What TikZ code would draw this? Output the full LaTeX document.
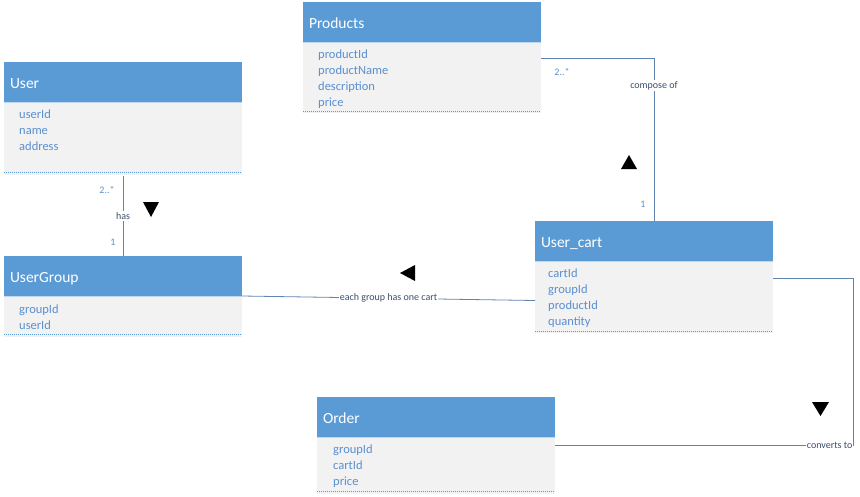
\documentclass[tikz,border=0pt]{standalone}
\usepackage{fontspec}
\setmainfont{Carlito}
\definecolor{hdr}{HTML}{5B9BD5}
\definecolor{bodyc}{HTML}{F2F2F2}
\definecolor{attrc}{HTML}{5B8FCF}
\definecolor{connc}{HTML}{5F84B0}
\definecolor{lblc}{HTML}{3B4F6B}
\definecolor{sepc}{HTML}{BDD7EE}
\begin{document}
\begin{tikzpicture}[x=1pt,y=-1pt,
  hdrbox/.style={fill=hdr, draw=none, anchor=north west, minimum height=40pt,
    text width=226pt, align=left, inner xsep=6pt, inner ysep=0pt, outer sep=0pt,
    text=white, font=\fontsize{15.5}{18}\selectfont, text height=13pt, text depth=1pt},
  bodybox/.style={fill=bodyc, draw=none, anchor=north west, minimum width=238pt,
    inner sep=0pt, outer sep=0pt},
  attr/.style={anchor=base west, inner sep=0pt, text=attrc, font=\fontsize{12.5}{15}\selectfont},
  dotline/.style={draw=hdr, line width=0.6pt, dash pattern=on 1pt off 1pt},
  sepline/.style={draw=sepc, line width=1pt},
  conn/.style={draw=connc, line width=0.8pt},
  lbl/.style={fill=white, inner sep=1pt, text=lblc, font=\fontsize{10}{12}\selectfont},
  mult/.style={inner sep=0pt, text=attrc, font=\fontsize{10}{12}\selectfont},
  tri/.style={fill=black}
]
\useasboundingbox (0,0) rectangle (860,496);

% Products
\node[hdrbox] (products) at (303,2) {Products};
\node[bodybox, minimum height=71pt] (productsb) at (303,42) {};
\draw[sepline] (products.south west) -- (products.south east);
\node[attr] (p1) at (318,58) {productId};
\node[attr] (p2) at (318,74) {productName};
\node[attr] (p3) at (318,90) {description};
\node[attr] (p4) at (318,106) {price};
\draw[dotline] ([yshift=2pt]productsb.south west) -- ([yshift=2pt]productsb.south east);

% User
\node[hdrbox] (user) at (4,62) {User};
\node[bodybox, minimum height=73pt] (userb) at (4,102) {};
\draw[sepline] (user.south west) -- (user.south east);
\node[attr] (u1) at (19,118) {userId};
\node[attr] (u2) at (19,134) {name};
\node[attr] (u3) at (19,150) {address};
\draw[dotline] ([yshift=3pt]userb.south west) -- ([yshift=3pt]userb.south east);

% UserGroup
\node[hdrbox] (usergroup) at (4,256) {UserGroup};
\node[bodybox, minimum height=40pt] (usergroupb) at (4,297) {};
\draw[sepline] (usergroup.south west) -- (usergroup.south east);
\node[attr] (g1) at (19,313) {groupId};
\node[attr] (g2) at (19,329) {userId};
\draw[dotline] ([yshift=3pt]usergroupb.south west) -- ([yshift=3pt]usergroupb.south east);

% User_cart
\node[hdrbox] (usercart) at (535,221) {User\_cart};
\node[bodybox, minimum height=71pt] (usercartb) at (535,262) {};
\draw[sepline] (usercart.south west) -- (usercart.south east);
\node[attr] (c1) at (548,277) {cartId};
\node[attr] (c2) at (548,293) {groupId};
\node[attr] (c3) at (548,309) {productId};
\node[attr] (c4) at (548,325) {quantity};
\draw[dotline] ([yshift=2pt]usercartb.south west) -- ([yshift=2pt]usercartb.south east);

% Order
\node[hdrbox] (order) at (317,397) {Order};
\node[bodybox, minimum height=57pt] (orderb) at (317,437) {};
\draw[sepline] (order.south west) -- (order.south east);
\node[attr] (o1) at (333,453) {groupId};
\node[attr] (o2) at (333,469) {cartId};
\node[attr] (o3) at (333,485) {price};
\draw[dotline] ([yshift=3pt]orderb.south west) -- ([yshift=3pt]orderb.south east);

% User -- UserGroup
\draw[conn] ([yshift=-1pt]userb.south) -- node[lbl, pos=0.5] (has) {has} (usergroup.north);
\node[mult] (m1) at (107,190) {2..*};
\node[mult] (m2) at (113,242) {1};
\fill[tri] (143,202) -- (159,202) -- (151,217) -- cycle;

% Products -- User_cart
\draw[conn] ([yshift=19.5pt]productsb.east) -| node[lbl, pos=0.585] (compose) {compose of} (usercart.north);
\node[mult] (m3) at (562,72) {2..*};
\node[mult] (m4) at (643,204) {1};
\fill[tri] (621,169) -- (637,169) -- (629,155) -- cycle;

% UserGroup -- User_cart
\draw[conn] (usergroup.south east) -- node[lbl, pos=0.5] (eachgrp) {each group has one cart} ([yshift=-3pt]usercartb.west);
\fill[tri] (415,265) -- (415,281) -- (400,273) -- cycle;

% User_cart -- Order
\coordinate (k1) at (853,278);
\coordinate (k2) at (853,445);
\draw[conn] ([yshift=19.5pt]usercartb.east) -- (k1) -- (k2) -- ([yshift=20.5pt]orderb.east);
\node[lbl, anchor=east, inner xsep=0.5pt] (conv) at (k2) {converts to};
\fill[tri] (812,402) -- (829,402) -- (820.5,416) -- cycle;
\end{tikzpicture}
\end{document}
